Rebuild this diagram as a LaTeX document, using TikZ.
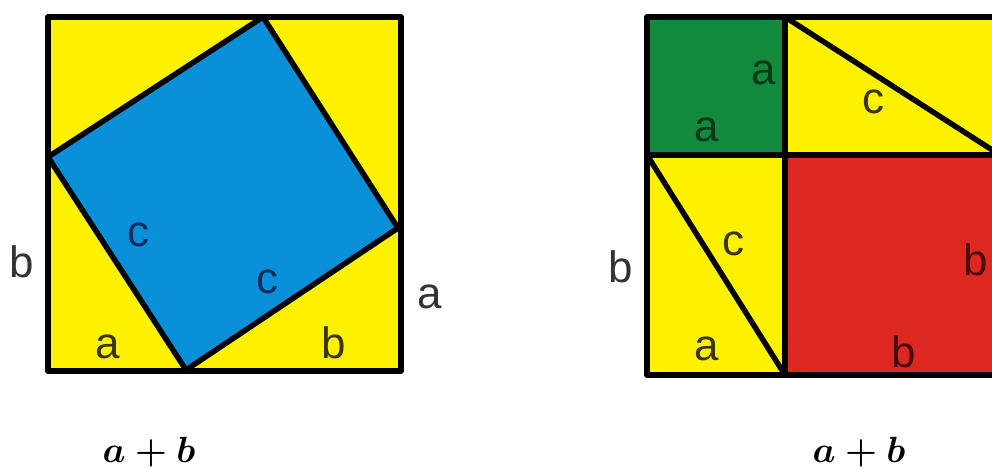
\documentclass[tikz,border=0pt]{standalone}
\usepackage{amsmath}
\usepackage{fontspec}
\setmainfont{Liberation Sans}
\usetikzlibrary{calc}
\definecolor{pyYellow}{HTML}{FFF200}
\definecolor{pyBlue}{HTML}{0A90D8}
\definecolor{pyGreen}{HTML}{12893C}
\definecolor{pyRed}{HTML}{DC2820}
\definecolor{pyInk}{HTML}{333333}
\definecolor{pyNavy}{HTML}{0B2E5C}
\definecolor{pyMoss}{HTML}{0A3A16}
\definecolor{pyMaroon}{HTML}{4A0A0A}
\definecolor{pyOlive}{HTML}{3A3410}

\begin{document}
\begin{tikzpicture}[x=0.02cm,y=-0.02cm,
  edge/.style={draw=black,line width=3.1pt,line join=round},
  lbl/.style={text=#1,inner sep=0pt,font=\fontsize{25}{30}\selectfont},
  sum/.style={inner sep=0pt,font=\fontsize{21.5}{26}\selectfont}]
\useasboundingbox (0,0) rectangle (992,469);
\clip (0,0) rectangle (992,469);
% left square: four triangles round the square on c
\coordinate (tl) at (48,17);
\coordinate (tr) at (401,17);
\coordinate (br) at (401,371);
\coordinate (bl) at (48,371);
\coordinate (ct) at (263,17);
\coordinate (cl) at (48,157);
\coordinate (cr) at (398,228);
\coordinate (cb) at (186,370);
\fill[pyYellow] (tl) rectangle (br);
\filldraw[edge,fill=pyBlue] (ct) -- (cr) -- (cb) -- (cl) -- cycle;
\draw[edge] (tl) rectangle (br);
\node[lbl=pyInk] (lb) at (22,262) {b};
\node[lbl=pyInk] (la) at (430,297) {a};
\node[lbl=pyOlive] (la2) at (108,347) {a};
\node[lbl=pyOlive] (lb2) at (334,343) {b};
\node[lbl=pyNavy] (lc) at (138,235) {c};
\node[lbl=pyNavy] (lc2) at (267,282) {c};
\node[sum] (lsum) at (149,452) {$\boldsymbol{a+b}$};
% right square: a^2, b^2 and two rectangles
\coordinate (rtl) at (647,17);
\coordinate (rbr) at (1000,375);
\coordinate (rm) at (785,155);
\fill[pyYellow] (rtl) rectangle (rbr);
\fill[pyGreen] (rtl) rectangle (rm);
\fill[pyRed] (rm) rectangle (rbr);
\draw[edge] (rtl) rectangle (rbr);
\draw[edge] (rtl |- rm) -- (rbr |- rm);
\draw[edge] (rm |- rtl) -- (rm |- rbr);
\draw[edge] (rm |- rtl) -- (rbr |- rm);
\draw[edge] (rtl |- rm) -- (rm |- rbr);
\node[lbl=pyInk] (rb) at (621,267) {b};
\node[lbl=pyMoss] (ra) at (764,73) {a};
\node[lbl=pyMoss] (ra2) at (707,130) {a};
\node[lbl=pyOlive] (rc) at (873,102) {c};
\node[lbl=pyOlive] (rc2) at (733,244) {c};
\node[lbl=pyOlive] (ra3) at (707,349) {a};
\node[lbl=pyMaroon] (rb2) at (976,260) {b};
\node[lbl=pyMaroon] (rb3) at (904,352) {b};
\node[sum] (rsum) at (859,452) {$\boldsymbol{a+b}$};
\end{tikzpicture}
\end{document}
